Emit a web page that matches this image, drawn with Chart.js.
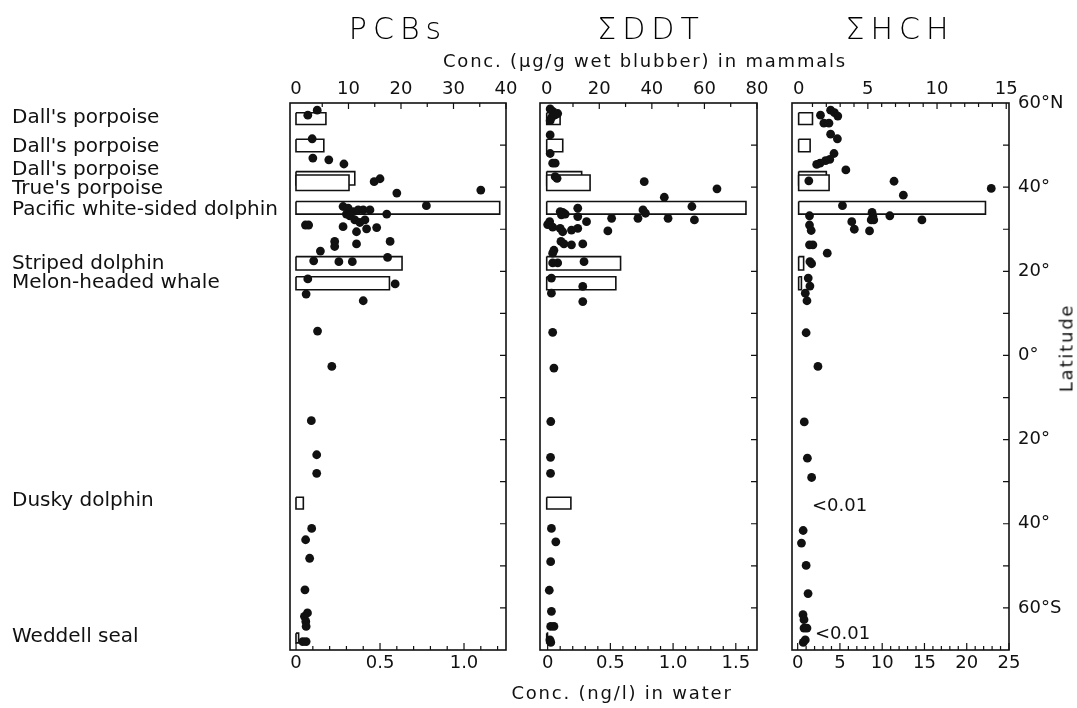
<!DOCTYPE html>
<html>
<head>
<meta charset="utf-8">
<script src="https://cdn.jsdelivr.net/npm/chart.js@4.4.1/dist/chart.umd.min.js"></script>
<style>
  body { margin: 0; background: #fff; }
  #wrap { position: relative; width: 1077px; height: 708px; overflow: hidden; font-family: "DejaVu Sans", sans-serif; color: #111; }
  canvas { position: absolute; left: 0; top: 0; }
  .lbl { position: absolute; white-space: nowrap; transform: translate(-50%, -50%); }
  .title { font-size: 30px; letter-spacing: 6px; font-weight: 300; color: #000; }
  .axt { font-size: 18px; letter-spacing: 1.8px; }
  .note { position: absolute; font-size: 18px; white-space: nowrap; transform: translate(0, -50%); }
</style>
</head>
<body>
<div id="wrap">
  <canvas id="pcb" width="1077" height="708"></canvas>
  <canvas id="ddt" width="1077" height="708"></canvas>
  <canvas id="hch" width="1077" height="708"></canvas>

  <div class="lbl title" style="left:398px; top:28px;">PCBs</div>
  <div class="lbl title" style="left:651px; top:28px;">ΣDDT</div>
  <div class="lbl title" style="left:900px; top:28px;">ΣHCH</div>
  <div class="lbl axt" style="left:645px; top:60px;">Conc. (μg/g wet blubber) in mammals</div>
  <div class="lbl axt" style="left:622px; top:692px;">Conc. (ng/l) in water</div>
  <div class="lbl axt" style="left:1066px; top:348px; transform: translate(-50%, -50%) rotate(-90deg);">Latitude</div>
  <div class="note" style="left:812px; top:504px;">&lt;0.01</div>
  <div class="note" style="left:815px; top:632px;">&lt;0.01</div>
</div>

<script>
// Mammal samples (bars, top axis) - one entry per species row
const species = ["Dall's porpoise", "Dall's porpoise", "Dall's porpoise", "True's porpoise",
  "Pacific white-sided dolphin", "Striped dolphin", "Melon-headed whale", "Dusky dolphin", "Weddell seal"];
const speciesLabelLat = [56.4, 49.6, 44.2, 39.5, 34.6, 21.7, 17.2, -34.5, -66.9];
const barLatNorth = [57.7, 51.4, 43.7, 42.9, 36.6, 23.5, 18.7, -33.7, -66.0];
const barLatSouth = [54.9, 48.4, 40.5, 39.2, 33.6, 20.3, 15.6, -36.5, -68.3];

const pcbMammals = [5.7, 5.3, 11.2, 10.1, 38.8, 20.2, 17.8, 1.4, 0.5];
const ddtMammals = [5.1, 6.1, 13.3, 16.5, 75.8, 28.1, 26.3, 9.2, 0.3];
const hchMammals = [1.0, 0.83, 2.0, 2.2, 13.5, 0.36, 0.2, null, null]; // last two <0.01

// Water samples (dots, bottom axis)
const pcbWaterConc = [
  0.126, 0.07, 0.096, 0.10, 0.195, 0.285, 0.465, 0.50, 0.60, 1.10,
  0.776, 0.28, 0.31, 0.34, 0.30, 0.32, 0.37, 0.40, 0.44, 0.54,
  0.35, 0.38, 0.41, 0.42, 0.36, 0.48, 0.28, 0.056, 0.075, 0.23,
  0.23, 0.36, 0.56, 0.145, 0.105, 0.255, 0.335, 0.545, 0.07, 0.59,
  0.06, 0.40, 0.128, 0.213, 0.091, 0.123, 0.123, 0.093, 0.057, 0.081,
  0.053, 0.068, 0.05, 0.058, 0.06, 0.04, 0.06];
const pcbWaterLat = [
  58.3, 57.1, 51.5, 46.9, 46.5, 45.5, 41.3, 42.0, 38.6, 39.3,
  35.6, 35.4, 35.0, 34.2, 33.6, 33.2, 34.6, 34.6, 34.6, 33.6,
  32.2, 31.6, 32.2, 30.1, 29.4, 30.4, 30.6, 31.0, 31.0, 27.1,
  25.9, 26.5, 27.1, 24.8, 22.5, 22.3, 22.3, 23.3, 18.2, 17.0,
  14.6, 13.0, 5.8, -2.6, -15.5, -23.6, -28.0, -41.1, -43.8, -48.2,
  -55.7, -61.2, -62.0, -63.2, -64.4, -68.0, -68.0];

const ddtWaterConc = [
  0.02, 0.04, 0.06, 0.03, 0.08, 0.02, 0.02, 0.02, 0.04, 0.06,
  0.06, 0.075, 0.77, 1.35, 0.93, 1.15, 0.76, 0.78, 0.72, 0.96,
  1.17, 0.51, 0.31, 0.24, 0.24, 0.10, 0.12, 0.14, 0.11, 0.016,
  0.0, 0.04, 0.10, 0.12, 0.19, 0.24, 0.48, 0.106, 0.13, 0.19,
  0.28, 0.05, 0.04, 0.08, 0.04, 0.29, 0.03, 0.28, 0.03, 0.28,
  0.04, 0.05, 0.025, 0.023, 0.023, 0.03, 0.065, 0.024, 0.013, 0.03,
  0.024, 0.05, 0.018, 0.025];
const ddtWaterLat = [
  58.6, 58.0, 57.2, 56.5, 57.5, 55.8, 52.4, 48.0, 45.7, 45.7,
  42.5, 42.1, 41.3, 39.6, 37.6, 35.4, 34.6, 33.8, 32.6, 32.6,
  32.2, 32.6, 31.8, 35.0, 33.0, 34.2, 34.0, 33.6, 33.4, 31.8,
  31.1, 30.5, 30.2, 29.4, 29.8, 30.2, 29.6, 27.1, 26.5, 26.3,
  26.5, 25.0, 24.3, 22.0, 22.0, 22.3, 18.4, 16.4, 14.8, 12.8,
  5.5, -3.0, -15.7, -24.2, -28.0, -41.1, -44.3, -49.0, -55.8, -60.8,
  -64.4, -64.4, -67.6, -68.2];

const hchWaterConc = [
  2.7, 3.9, 4.35, 4.75, 3.1, 3.7, 3.9, 4.7, 4.3, 3.8,
  3.3, 2.65, 2.25, 5.7, 1.32, 11.4, 12.5, 22.9, 5.3, 1.4,
  8.8, 8.9, 8.7, 9.0, 10.9, 14.7, 6.4, 6.7, 8.5, 1.4,
  1.6, 1.4, 1.8, 3.5, 1.45, 1.65, 1.25, 1.45, 0.9, 1.1,
  1.0, 2.4, 0.78, 1.15, 1.65, 0.65, 0.45, 1.0, 1.23, 0.63,
  0.75, 0.75, 1.1, 0.9, 0.66];
const hchWaterLat = [
  57.1, 58.3, 57.7, 56.9, 55.2, 55.2, 52.6, 51.5, 48.0, 46.6,
  46.3, 45.7, 45.4, 44.1, 41.5, 41.4, 38.1, 39.7, 35.6, 33.2,
  34.0, 33.0, 32.2, 32.2, 33.2, 32.2, 31.8, 30.0, 29.6, 31.0,
  29.7, 26.3, 26.3, 24.3, 22.3, 21.8, 18.4, 16.5, 14.8, 13.0,
  5.4, -2.6, -15.8, -24.4, -29.0, -41.6, -44.6, -49.9, -56.6, -61.6,
  -62.8, -64.8, -64.8, -67.6, -68.2];

// Tick values and labels
const pcbTopTicks = [0, 10, 20, 30, 40];
const ddtTopTicks = [0, 20, 40, 60, 80];
const hchTopTicks = [0, 5, 10, 15];
const pcbBottomTicks = [0, 0.5, 1.0];
const pcbBottomLabels = ["0", "0.5", "1.0"];
const ddtBottomTicks = [0, 0.5, 1.0, 1.5];
const ddtBottomLabels = ["0", "0.5", "1.0", "1.5"];
const hchBottomTicks = [0, 5, 10, 15, 20, 25];
const latTicks = [60, 40, 20, 0, -20, -40, -60];
const latLabels = ["60°N", "40°", "20°", "0°", "20°", "40°", "60°S"];

const INK = "#111";
const tickFont = { family: "DejaVu Sans", size: 18 };
const nameFont = { family: "DejaVu Sans", size: 20 };

// frame around the plot plus small inward ticks on top, bottom and right edges
const frameTicks = {
  id: "frameTicks",
  beforeDatasetsDraw(chart, args, opts) {
    const { ctx, chartArea: a, scales } = chart;
    ctx.save();
    ctx.strokeStyle = INK;
    ctx.lineWidth = 1.6;
    ctx.strokeRect(a.left, a.top, a.right - a.left, a.bottom - a.top);
    ctx.lineWidth = 1.2;
    ctx.beginPath();
    const near = (v, m) => Math.abs(v / m - Math.round(v / m)) < 1e-6;
    let n = Math.floor(scales.x2.max / opts.topStep + 1e-6);
    for (let k = 1; k <= n; k++) {
      const v = k * opts.topStep;
      const px = scales.x2.getPixelForValue(v);
      const len = near(v, opts.topMajor) ? 6 : 4;
      ctx.moveTo(px, a.top); ctx.lineTo(px, a.top + len);
    }
    n = Math.floor(scales.x.max / opts.bottomStep + 1e-6);
    for (let k = 0; k <= n; k++) {
      const v = k * opts.bottomStep;
      const px = scales.x.getPixelForValue(v);
      const len = near(v, opts.bottomMajor) ? 7 : 4;
      ctx.moveTo(px, a.bottom); ctx.lineTo(px, a.bottom - len);
    }
    for (let lat = -60; lat < 60; lat += 10) {
      const py = scales.y.getPixelForValue(lat);
      ctx.moveTo(a.right, py); ctx.lineTo(a.right - 6, py);
    }
    ctx.stroke();
    ctx.restore();
  }
};

function tickAxis(position, min, max, ticks, labels) {
  return {
    type: "linear",
    position: position,
    min: min,
    max: max,
    grid: { display: false, drawTicks: false },
    border: { display: false },
    ticks: {
      autoSkip: false,
      maxRotation: 0,
      padding: 3,
      font: tickFont,
      color: INK,
      callback: (v, i) => labels[i]
    },
    afterBuildTicks: (s) => { s.ticks = ticks.map((v) => ({ value: v })); },
    afterFit: (s) => { s.height = 26; }
  };
}

function makePanel(canvasId, cfg) {
  const datasets = [{
    data: cfg.waterConc.map((c, i) => ({ x: c, y: cfg.waterLat[i] })),
    xAxisID: "x",
    yAxisID: "y",
    pointRadius: 4.4,
    pointBackgroundColor: INK,
    pointBorderWidth: 0,
    order: 0
  }];

  cfg.mammals.forEach((v, i) => {
    if (v == null) return;
    const n = barLatNorth[i], s = barLatSouth[i];
    datasets.push({
      data: [{ x: 0, y: n }, { x: v, y: n }, { x: v, y: s }, { x: 0, y: s }, { x: 0, y: n }],
      showLine: true,
      xAxisID: "x2",
      yAxisID: "y",
      borderColor: INK,
      borderWidth: 1.6,
      borderJoinStyle: "miter",
      backgroundColor: "#fff",
      fill: "shape",
      pointRadius: 0,
      order: 100 - i
    });
  });

  return new Chart(document.getElementById(canvasId), {
    type: "scatter",
    data: { datasets: datasets },
    plugins: [frameTicks],
    options: {
      responsive: false,
      animation: false,
      events: [],
      layout: { padding: cfg.padding },
      plugins: {
        legend: { display: false },
        tooltip: { enabled: false },
        frameTicks: cfg.frame
      },
      scales: {
        x: tickAxis("bottom", cfg.bottomMin, cfg.bottomMax, cfg.bottomTicks, cfg.bottomLabels),
        x2: tickAxis("top", cfg.topMin, cfg.topMax, cfg.topTicks, cfg.topTicks.map(String)),
        y: cfg.yAxis
      }
    }
  });
}

makePanel("pcb", {
  mammals: pcbMammals,
  waterConc: pcbWaterConc,
  waterLat: pcbWaterLat,
  topMin: -1.14, topMax: 40, topTicks: pcbTopTicks,
  bottomMin: -0.036, bottomMax: 1.25, bottomTicks: pcbBottomTicks, bottomLabels: pcbBottomLabels,
  frame: { topStep: 5, topMajor: 10, bottomStep: 0.1, bottomMajor: 0.5 },
  padding: { left: 12, right: 571, top: 77, bottom: 32 },
  yAxis: {
    type: "linear", position: "left", min: -70, max: 60,
    grid: { display: false, drawTicks: false }, border: { display: false },
    ticks: { autoSkip: false, crossAlign: "far", padding: 0, font: nameFont, color: INK,
      callback: (v, i) => species[i] },
    afterBuildTicks: (s) => { s.ticks = speciesLabelLat.map((v) => ({ value: v })); },
    afterFit: (s) => { s.width = 278; }
  }
});

makePanel("ddt", {
  mammals: ddtMammals,
  waterConc: ddtWaterConc,
  waterLat: ddtWaterLat,
  topMin: -2.55, topMax: 80, topTicks: ddtTopTicks,
  bottomMin: -0.061, bottomMax: 1.669, bottomTicks: ddtBottomTicks, bottomLabels: ddtBottomLabels,
  frame: { topStep: 10, topMajor: 20, bottomStep: 0.1, bottomMajor: 0.5 },
  padding: { left: 540, right: 320, top: 77, bottom: 32 },
  yAxis: { type: "linear", display: false, min: -70, max: 60 }
});

makePanel("hch", {
  mammals: hchMammals,
  waterConc: hchWaterConc,
  waterLat: hchWaterLat,
  topMin: -0.48, topMax: 15.2, topTicks: hchTopTicks,
  bottomMin: -0.67, bottomMax: 25, bottomTicks: hchBottomTicks, bottomLabels: hchBottomTicks.map(String),
  frame: { topStep: 1, topMajor: 5, bottomStep: 1, bottomMajor: 5 },
  padding: { left: 792, right: 8, top: 77, bottom: 32 },
  yAxis: {
    type: "linear", position: "right", min: -70, max: 60,
    grid: { display: false, drawTicks: false }, border: { display: false },
    ticks: { autoSkip: false, crossAlign: "near", padding: 9, font: tickFont, color: INK,
      callback: (v, i) => latLabels[i] },
    afterBuildTicks: (s) => { s.ticks = latTicks.map((v) => ({ value: v })); },
    afterFit: (s) => { s.width = 60; }
  }
});
</script>
</body>
</html>
